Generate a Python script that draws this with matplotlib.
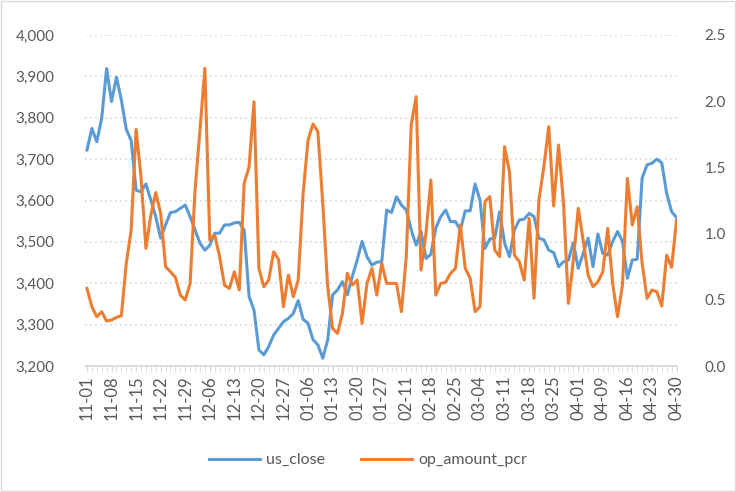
import matplotlib
matplotlib.use("Agg")
import matplotlib.pyplot as plt
from matplotlib.ticker import FuncFormatter, MultipleLocator
from matplotlib.patches import Rectangle

plt.rcParams['font.family'] = ['Lato', 'DejaVu Sans']

# tick labels, one every 5 trading days
tick_labels = ['11-01', '11-08', '11-15', '11-22', '11-29', '12-06', '12-13',
               '12-20', '12-27', '01-06', '01-13', '01-20', '01-27', '02-11',
               '02-18', '02-25', '03-04', '03-11', '03-18', '03-25', '04-01',
               '04-09', '04-16', '04-23', '04-30']

us_close = [
    3722, 3774, 3742, 3799, 3919, 3839, 3898, 3843, 3772, 3745,
    3625, 3621, 3640, 3601, 3561, 3509, 3541, 3571, 3573, 3581,
    3589, 3561, 3529, 3497, 3480, 3492, 3521, 3521, 3541, 3541,
    3546, 3547, 3529, 3368, 3335, 3239, 3227, 3247, 3275, 3291,
    3307, 3315, 3327, 3358, 3313, 3303, 3264, 3251, 3219, 3263,
    3372, 3384, 3404, 3372, 3416, 3456, 3501, 3464, 3444, 3451,
    3452, 3577, 3571, 3609, 3589, 3577, 3529, 3492, 3525, 3460,
    3470, 3533, 3561, 3577, 3549, 3549, 3529, 3575, 3575, 3640,
    3601, 3484, 3507, 3509, 3573, 3497, 3464, 3529, 3553, 3555,
    3569, 3561, 3509, 3505, 3480, 3474, 3440, 3452, 3456, 3498,
    3436, 3472, 3509, 3440, 3519, 3472, 3468, 3501, 3525, 3501,
    3412, 3456, 3458, 3654, 3686, 3690, 3700, 3691, 3617, 3573,
    3559,
]

op_amount_pcr = [
    0.586, 0.448, 0.372, 0.410, 0.340, 0.347, 0.367, 0.380, 0.775, 1.027,
    1.787, 1.430, 0.889, 1.140, 1.310, 1.153, 0.750, 0.712, 0.670, 0.536,
    0.498, 0.624, 1.329, 1.780, 2.248, 0.951, 0.990, 0.826, 0.610, 0.586,
    0.712, 0.574, 1.380, 1.505, 1.996, 0.737, 0.599, 0.649, 0.863, 0.805,
    0.448, 0.687, 0.523, 0.649, 1.304, 1.707, 1.828, 1.770, 1.228, 0.599,
    0.284, 0.246, 0.397, 0.700, 0.611, 0.649, 0.322, 0.624, 0.737, 0.536,
    0.775, 0.624, 0.624, 0.624, 0.410, 0.826, 1.820, 2.034, 0.725, 1.002,
    1.405, 0.536, 0.624, 0.632, 0.700, 0.737, 1.065, 0.737, 0.662, 0.410,
    0.448, 1.241, 1.279, 0.876, 0.826, 1.656, 1.468, 0.838, 0.788, 0.649,
    1.115, 0.511, 1.254, 1.505, 1.808, 1.208, 1.669, 1.228, 0.473, 0.800,
    1.191, 0.951, 0.687, 0.599, 0.636, 0.712, 1.040, 0.624, 0.372, 0.611,
    1.417, 1.065, 1.203, 0.775, 0.511, 0.574, 0.561, 0.453, 0.838, 0.745,
    1.100,
]

BLUE = '#5B9BD5'
ORANGE = '#ED7D31'
TEXT = '#595959'
GRID = '#D9D9D9'

x = list(range(len(us_close)))

fig = plt.figure(figsize=(7.36, 4.92), dpi=100)
ax = fig.add_axes([85 / 736, 1 - 366 / 492, (677 - 85) / 736, (366 - 35) / 492])
ax2 = ax.twinx()

ax.plot(x, us_close, color=BLUE, lw=2.2, solid_joinstyle='round', label='us_close')
ax2.plot(x, op_amount_pcr, color=ORANGE, lw=2.2, solid_joinstyle='round', label='op_amount_pcr')

ax.set_ylim(3200, 4000)
ax2.set_ylim(0, 2.5)
ax.set_xlim(-0.4, len(x) - 1 + 0.1)

ax.yaxis.set_major_locator(MultipleLocator(100))
ax.yaxis.set_major_formatter(FuncFormatter(lambda v, p: f'{int(v):,}'))
ax2.yaxis.set_major_locator(MultipleLocator(0.5))
ax2.yaxis.set_major_formatter(FuncFormatter(lambda v, p: f'{v:.1f}'))

ax.set_xticks(range(0, len(x), 5))
ax.set_xticklabels(tick_labels, rotation=90)
ax.set_xticks(x, minor=True)

ax.grid(axis='y', color=GRID, linestyle=(0, (1, 2)), lw=1.2)
ax.set_axisbelow(True)

for a in (ax, ax2):
    for s in a.spines.values():
        s.set_visible(False)
ax.spines['bottom'].set_visible(True)
ax.spines['bottom'].set_color(GRID)
ax.spines['bottom'].set_linewidth(1.2)

ax.tick_params(axis='y', length=0, labelsize=11, labelcolor=TEXT, pad=22)
ax2.tick_params(axis='y', length=0, labelsize=11, labelcolor=TEXT, pad=20)
ax.tick_params(axis='x', which='major', length=4, color=GRID, labelsize=12,
               labelcolor=TEXT, pad=3)
ax.tick_params(axis='x', which='minor', length=4, color=GRID)

h1, l1 = ax.get_legend_handles_labels()
h2, l2 = ax2.get_legend_handles_labels()
fig.legend(h1 + h2, l1 + l2, loc='center', bbox_to_anchor=(0.5, 1 - 460 / 492),
           ncol=2, frameon=False, fontsize=11.5, labelcolor=TEXT,
           handlelength=3.2, columnspacing=2.2, handletextpad=0.4)

fig.patches.append(Rectangle((0.002, 0.002), 0.996, 0.996, transform=fig.transFigure,
                             fill=False, edgecolor=GRID, lw=1))

fig.savefig('out.png', dpi=100, facecolor='white')
